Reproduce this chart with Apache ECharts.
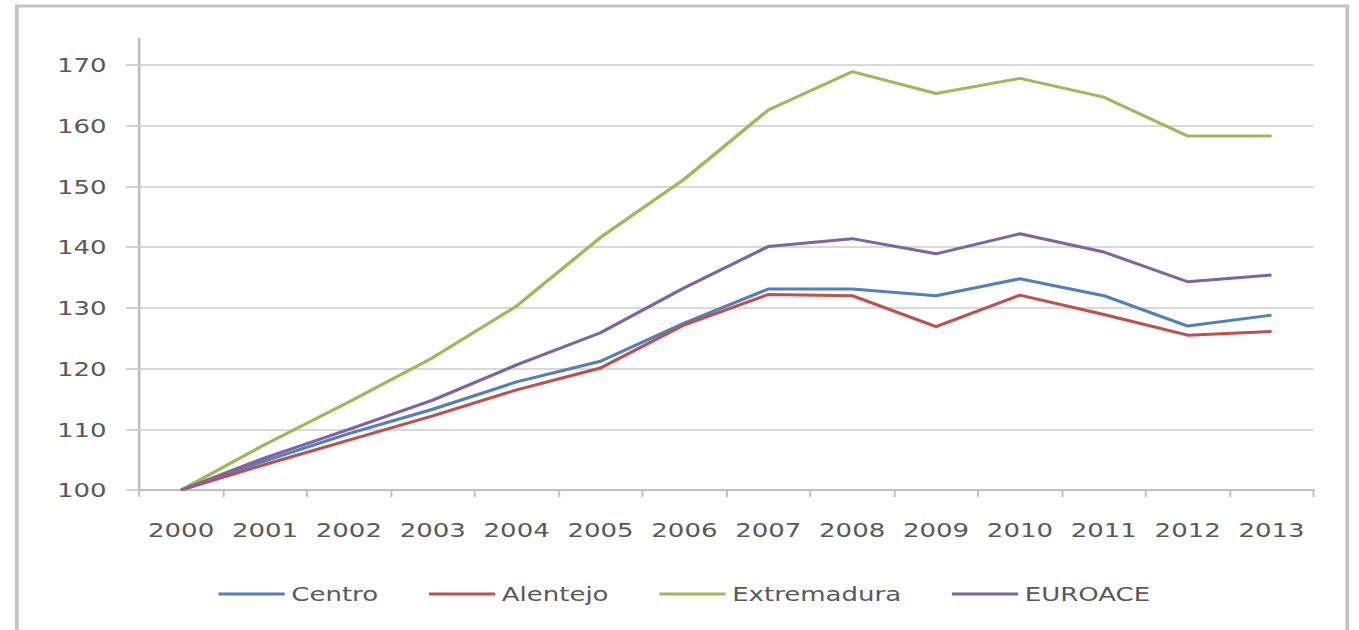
<!DOCTYPE html>
<html>
<head>
<meta charset="utf-8">
<script src="https://cdn.jsdelivr.net/npm/echarts@6/dist/echarts.min.js"></script>
<style>
  html,body{margin:0;padding:0;background:#fff;width:1359px;height:630px;overflow:hidden;}
  #wrap{position:absolute;left:0;top:0;width:1045px;height:630px;transform:scaleX(1.3005);transform-origin:0 0;}
</style>
</head>
<body>
<div id="wrap"></div>
<script>
const years = ['2000','2001','2002','2003','2004','2005','2006','2007','2008','2009','2010','2011','2012','2013'];
const centro      = [100, 104.8, 109.3, 113.3, 117.8, 121.2, 127.5, 133.1, 133.1, 132.0, 134.8, 132.0, 127.0, 128.8];
const alentejo    = [100, 104.2, 108.2, 112.2, 116.5, 120.1, 127.2, 132.2, 132.0, 126.9, 132.1, 128.9, 125.5, 126.1];
const extremadura = [100, 107.5, 114.5, 121.8, 130.3, 141.6, 151.2, 162.6, 168.9, 165.3, 167.8, 164.7, 158.3, 158.3];
const euroace     = [100, 105.3, 110.0, 114.8, 120.6, 125.9, 133.3, 140.1, 141.4, 138.9, 142.2, 139.2, 134.3, 135.4];
const seriesNames = ['Centro','Alentejo','Extremadura','EUROACE'];
const seriesColors = ['#4F81BD','#C0504D','#9BBB59','#8064A2'];
const seriesData = [centro, alentejo, extremadura, euroace];

const chart = echarts.init(document.getElementById('wrap'), null, {renderer:'svg'});
const font = 'DejaVu Sans';
const txt = '#595959';
const option = {
  animation:false,
  textStyle:{fontFamily:font},
  color: seriesColors,
  grid:{left:107, right:35, top:65, bottom:140, containLabel:false},
  legend:{
    data: seriesNames,
    left:163, top:579,
    icon:'rect', itemWidth:51, itemHeight:3, itemGap:39,
    textStyle:{fontSize:20, color:txt, fontFamily:font}
  },
  xAxis:{
    type:'category', data: years, boundaryGap:true,
    axisLine:{lineStyle:{color:'#bfbfbf', width:2}},
    axisTick:{show:true, length:7, alignWithLabel:false, lineStyle:{color:'#bfbfbf', width:1.5}},
    axisLabel:{fontSize:20, color:txt, margin:30, interval:0, fontFamily:font}
  },
  yAxis:{
    type:'value', min:100, max:170, interval:10,
    axisLine:{show:true, lineStyle:{color:'#bfbfbf', width:2}},
    axisTick:{show:true, length:10, lineStyle:{color:'#d0d0d0', width:2}},
    axisLabel:{fontSize:20, color:txt, margin:25, fontFamily:font},
    splitLine:{show:true, lineStyle:{color:'#d9d9d9', width:2}}
  },
  series: seriesNames.map((n,i)=>({
    name:n, type:'line', data: seriesData[i], showSymbol:false, symbol:'none',
    lineStyle:{width:3, color:seriesColors[i]}, itemStyle:{color:seriesColors[i]}
  }))
};
chart.setOption(option);
const yTop = chart.convertToPixel({yAxisIndex:0}, 170);
chart.setOption({
  graphic:[
    {type:'rect', shape:{x:13, y:6, width:1023, height:700}, style:{fill:'none', stroke:'#c4c4c4', lineWidth:3}, silent:true, z:-1},
    {type:'line', shape:{x1:107, y1:38, x2:107, y2:yTop}, style:{stroke:'#bfbfbf', lineWidth:2}, silent:true}
  ]
});
</script>
</body>
</html>
